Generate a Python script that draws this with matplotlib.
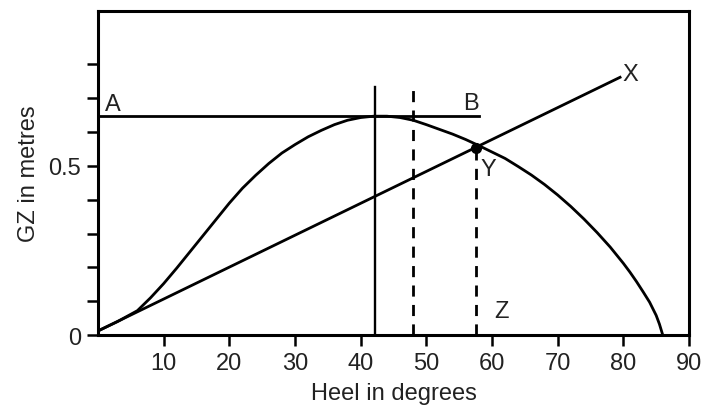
import matplotlib
matplotlib.use("Agg")
import matplotlib.pyplot as plt

plt.rcParams['font.family'] = ['Liberation Sans', 'DejaVu Sans']

# GZ curve (heel in degrees, GZ in metres)
heel = [0, 3, 6, 8, 10, 12, 14, 16, 18, 20, 22, 24, 26, 28, 30, 32, 34, 36, 38,
        40, 42, 44, 46, 48, 50, 52, 54, 56, 58, 60, 62, 64, 66, 68, 70, 72, 74,
        76, 78, 79, 80, 81, 82, 83, 84, 85, 85.5, 86]
gz = [0.012, 0.04, 0.072, 0.11, 0.152, 0.198, 0.246, 0.294, 0.342, 0.39, 0.434,
      0.472, 0.507, 0.538, 0.563, 0.586, 0.605, 0.622, 0.635, 0.643, 0.647,
      0.647, 0.643, 0.635, 0.622, 0.608, 0.594, 0.578, 0.560, 0.541, 0.522,
      0.498, 0.473, 0.445, 0.414, 0.380, 0.343, 0.303, 0.260, 0.236, 0.212,
      0.186, 0.158, 0.128, 0.097, 0.058, 0.032, 0.0]

# straight line from origin to X
line_x = [0, 79.5]
line_y = [0.012, 0.762]

# horizontal line A-B
ab_x = [0, 58]
ab_y = [0.647, 0.647]

# verticals
solid_x = 42.2
solid_top = 0.734
dash1_x = 48
dash1_top = 0.735
point_y = (57.5, 0.554)

labels = {'A': (2.3, 0.683), 'B': (56.8, 0.686), 'X': (81.0, 0.772),
          'Y': (59.5, 0.491), 'Z': (61.5, 0.071)}

txt = '#222222'

fig = plt.figure(figsize=(7.02, 4.14), dpi=100)
ax = fig.add_axes([0.1396, 0.1884, 0.8419, 0.7826])

ax.plot(heel, gz, color='black', lw=2.0)
ax.plot(line_x, line_y, color='black', lw=2.0)
ax.plot(ab_x, ab_y, color='black', lw=2.0)
ax.plot([solid_x, solid_x], [0, solid_top], color='black', lw=1.7)
ax.plot([dash1_x, dash1_x], [0, dash1_top], color='black', lw=2.0, dashes=(4, 3))
ax.plot([point_y[0], point_y[0]], [0, point_y[1]], color='black', lw=2.0, dashes=(4, 3))
ax.plot(point_y[0], point_y[1], 'o', color='black', ms=7)

for k, (x, y) in labels.items():
    ax.text(x, y, k, fontsize=17, ha='center', va='center', color=txt)

ax.set_xlim(0, 90)
ax.set_ylim(0, 0.958)
ax.set_xticks(range(10, 91, 10))
ax.set_xticklabels([str(v) for v in range(10, 91, 10)], fontsize=17, color=txt)
yt = [i / 10 for i in range(0, 9)]
ax.set_yticks(yt)
ax.set_yticklabels(['0' if v == 0 else ('0.5' if abs(v - 0.5) < 1e-9 else '') for v in yt],
                   fontsize=17, color=txt)
ax.tick_params(direction='out', length=8, width=1.8, pad=4)
for s in ax.spines.values():
    s.set_linewidth(2.2)

ax.set_xlabel('Heel in degrees', fontsize=17, labelpad=6, color=txt)
ax.set_ylabel('GZ in metres', fontsize=17, labelpad=6, color=txt)

fig.savefig('out.png', dpi=100)
